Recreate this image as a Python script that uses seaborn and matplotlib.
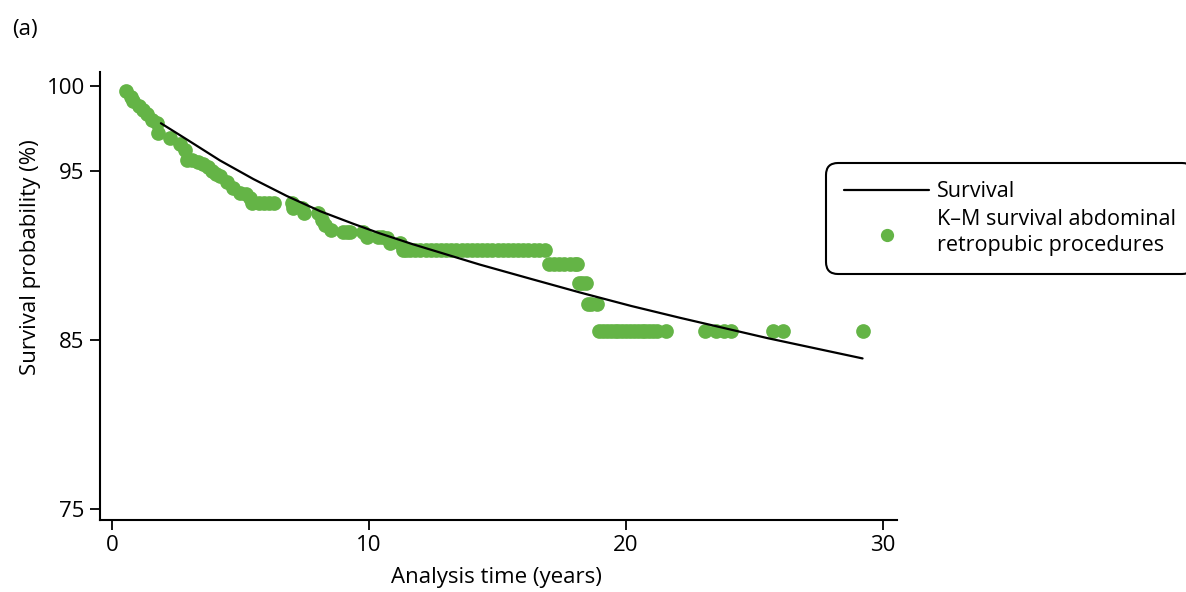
import matplotlib
matplotlib.use("Agg")
import matplotlib.pyplot as plt
import seaborn as sns
import pandas as pd

# Fitted survival curve
curve_time = [1.9, 2.9, 4.2, 5.5, 6.8, 8.1, 9.4, 10.4, 11.7, 13.0, 14.3, 16.3, 18.2, 20.2, 22.1, 25.5, 29.2]
curve_surv = [97.8, 96.85, 95.6, 94.5, 93.5, 92.6, 91.85, 91.3, 90.65, 90.05, 89.45, 88.6, 87.8, 87.0, 86.3, 85.1, 83.9]

# Kaplan-Meier points
km_time = [0.54, 0.72, 0.82, 1.05, 1.2, 1.36, 1.56, 1.75, 1.79, 2.26, 2.65, 2.84, 2.9,
           3.1, 3.35, 3.55, 3.74, 3.9, 4.05, 4.2, 4.47, 4.7, 4.98, 5.2, 5.37, 5.45, 5.7,
           5.9, 6.1, 6.3, 7.0, 7.05,
           7.4, 7.45, 8.0, 8.17, 8.3, 8.5, 9.0, 9.15, 9.26, 9.77, 9.9, 10.35, 10.5, 10.7,
           10.8, 11.2,
           11.3, 11.45, 11.6, 11.8, 12.0, 12.2, 12.4, 12.6, 12.8, 13.0, 13.2, 13.4,
           13.6, 13.8, 14.0, 14.2, 14.4, 14.6, 14.8, 15.0, 15.2, 15.4, 15.6, 15.8,
           16.0, 16.2, 16.4, 16.6, 16.85,
           17.0, 17.2, 17.4, 17.6, 17.8, 18.0, 18.1,
           18.15, 18.3, 18.45,
           18.5, 18.65, 18.85,
           18.95, 19.1, 19.25, 19.4, 19.55, 19.7, 19.85, 20.0, 20.15, 20.3, 20.45,
           20.6, 20.75, 20.9, 21.05, 21.2, 21.55,
           23.07, 23.5, 23.8, 24.1, 25.7, 26.1, 29.2]
km_surv = [99.7, 99.35, 99.1, 98.8, 98.6, 98.35, 98.0, 97.8, 97.25, 96.9, 96.6, 96.2, 95.6,
           95.6, 95.5, 95.4, 95.2, 95.0, 94.8, 94.7, 94.3, 94.0, 93.7, 93.6, 93.4, 93.1, 93.1,
           93.1, 93.1, 93.1, 93.1, 92.8,
           92.8, 92.5, 92.5, 92.1, 91.8, 91.5, 91.4, 91.4, 91.4, 91.4, 91.1, 91.1, 91.1, 91.0,
           90.75, 90.75,
           90.3, 90.3, 90.3, 90.3, 90.3, 90.3, 90.3, 90.3, 90.3, 90.3, 90.3, 90.3,
           90.3, 90.3, 90.3, 90.3, 90.3, 90.3, 90.3, 90.3, 90.3, 90.3, 90.3, 90.3,
           90.3, 90.3, 90.3, 90.3, 90.3,
           89.5, 89.5, 89.5, 89.5, 89.5, 89.5, 89.5,
           88.35, 88.35, 88.35,
           87.1, 87.1, 87.1,
           85.5, 85.5, 85.5, 85.5, 85.5, 85.5, 85.5, 85.5, 85.5, 85.5, 85.5,
           85.5, 85.5, 85.5, 85.5, 85.5, 85.5,
           85.5, 85.5, 85.5, 85.5, 85.5, 85.5, 85.5]

x_ticks = [0, 10, 20, 30]
y_ticks = [75, 85, 95, 100]

GREEN = "#64b446"

sns.set_style("ticks")
plt.rcParams["font.family"] = ["Open Sans", "DejaVu Sans"]
plt.rcParams["text.color"] = "black"
plt.rcParams["axes.labelcolor"] = "black"

fig = plt.figure(figsize=(11.86, 5.92), dpi=100)
ax = fig.add_axes([100 / 1186, 1 - 520 / 592, 797 / 1186, 448 / 592])

curve_df = pd.DataFrame({"time": curve_time, "surv": curve_surv})
km_df = pd.DataFrame({"time": km_time, "surv": km_surv})

sns.lineplot(data=curve_df, x="time", y="surv", ax=ax, color="black", linewidth=1.6,
             label="Survival", zorder=3, sort=True)
sns.scatterplot(data=km_df, x="time", y="surv", ax=ax, color=GREEN, s=112,
                linewidth=0, label="K\u2013M survival abdominal\nretropubic procedures",
                zorder=2)

ax.set_xlim(-0.47, 30.54)
ax.set_ylim(74.35, 100.83)
ax.set_xticks(x_ticks)
ax.set_yticks(y_ticks)
ax.tick_params(axis="both", direction="out", length=7, width=1.3, labelsize=16,
               color="black", labelcolor="black", pad=4)
for side in ["top", "right"]:
    ax.spines[side].set_visible(False)
for side in ["left", "bottom"]:
    ax.spines[side].set_linewidth(1.5)
    ax.spines[side].set_color("black")

ax.set_xlabel("Analysis time (years)", fontsize=16)
ax.set_ylabel("Survival probability (%)", fontsize=16)
ax.xaxis.set_label_coords(0.4975, -(578 - 520) / 448)
ax.yaxis.set_label_coords(-(100 - 30) / 797, (520 - 257) / 448)
ax.xaxis.label.set_va("center")
ax.yaxis.label.set_va("center")

leg = ax.legend(loc="upper left", bbox_to_anchor=(826 / 1186, 1 - 163 / 592),
                bbox_transform=fig.transFigure, frameon=True, fancybox=True,
                fontsize=15.5, handlelength=3.95, handletextpad=0.35, borderpad=0.85,
                labelspacing=0.3, markerscale=0.9, borderaxespad=0)
for t in leg.get_texts():
    t.set_linespacing(1.3)
frame = leg.get_frame()
frame.set_edgecolor("black")
frame.set_linewidth(1.5)
frame.set_facecolor("white")
frame.set_alpha(1)
frame.set_boxstyle("round", pad=0, rounding_size=0.55)

fig.text(12 / 1186, 1 - 30 / 592, "(a)", fontsize=16, va="center", ha="left")

fig.savefig("out.png", dpi=100)
